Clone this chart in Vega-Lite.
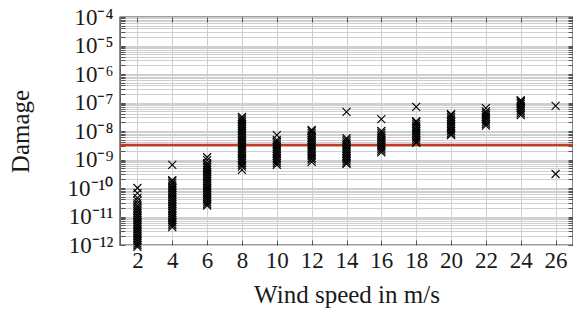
{
  "$schema": "https://vega.github.io/schema/vega-lite/v6.json",
  "width": 453,
  "height": 228,
  "autosize": {"type": "none"},
  "padding": {"left": 120, "top": 17, "right": 0, "bottom": 75},
  "background": "white",
  "view": {"stroke": "#3c3c3c", "strokeWidth": 1.4},
  "config": {
    "font": "Liberation Serif",
    "axis": {
      "labelFont": "Liberation Serif",
      "titleFont": "Liberation Serif",
      "labelFontSize": 23,
      "titleFontSize": 25,
      "titleFontWeight": "normal",
      "labelColor": "#1a1a1a",
      "titleColor": "#1a1a1a",
      "gridColor": "#cfcfcf",
      "gridWidth": 1,
      "tickColor": "#555555",
      "domain": false
    }
  },
  "datasets": {
    "pts": [
      {"ws": 2, "d": 8.66e-13},
      {"ws": 2, "d": 1.0e-12}, {"ws": 2, "d": 1.15e-12}, {"ws": 2, "d": 1.33e-12}, {"ws": 2, "d": 1.54e-12}, {"ws": 2, "d": 1.78e-12}, {"ws": 2, "d": 2.05e-12}, {"ws": 2, "d": 2.37e-12}, {"ws": 2, "d": 2.74e-12},
      {"ws": 2, "d": 3.16e-12}, {"ws": 2, "d": 3.65e-12}, {"ws": 2, "d": 4.22e-12}, {"ws": 2, "d": 4.87e-12}, {"ws": 2, "d": 5.62e-12}, {"ws": 2, "d": 6.49e-12}, {"ws": 2, "d": 7.5e-12}, {"ws": 2, "d": 8.66e-12},
      {"ws": 2, "d": 1.0e-11}, {"ws": 2, "d": 1.15e-11}, {"ws": 2, "d": 1.33e-11}, {"ws": 2, "d": 1.54e-11}, {"ws": 2, "d": 1.78e-11}, {"ws": 2, "d": 2.05e-11}, {"ws": 2, "d": 2.37e-11},
      {"ws": 2, "d": 2.9e-11}, {"ws": 2, "d": 3.6e-11}, {"ws": 2, "d": 4.5e-11}, {"ws": 2, "d": 6.6e-11}, {"ws": 2, "d": 1.0e-10},

      {"ws": 4, "d": 4.22e-12}, {"ws": 4, "d": 4.87e-12}, {"ws": 4, "d": 5.62e-12}, {"ws": 4, "d": 6.49e-12}, {"ws": 4, "d": 7.5e-12}, {"ws": 4, "d": 8.66e-12},
      {"ws": 4, "d": 1.0e-11}, {"ws": 4, "d": 1.15e-11}, {"ws": 4, "d": 1.33e-11}, {"ws": 4, "d": 1.54e-11}, {"ws": 4, "d": 1.78e-11}, {"ws": 4, "d": 2.05e-11}, {"ws": 4, "d": 2.37e-11}, {"ws": 4, "d": 2.74e-11},
      {"ws": 4, "d": 3.16e-11}, {"ws": 4, "d": 3.65e-11}, {"ws": 4, "d": 4.22e-11}, {"ws": 4, "d": 4.87e-11}, {"ws": 4, "d": 5.62e-11}, {"ws": 4, "d": 6.49e-11}, {"ws": 4, "d": 7.5e-11}, {"ws": 4, "d": 8.66e-11},
      {"ws": 4, "d": 1.0e-10}, {"ws": 4, "d": 1.15e-10}, {"ws": 4, "d": 1.33e-10}, {"ws": 4, "d": 1.54e-10}, {"ws": 4, "d": 1.78e-10}, {"ws": 4, "d": 1.9e-10},
      {"ws": 4, "d": 6.5e-10},

      {"ws": 6, "d": 2.4e-11}, {"ws": 6, "d": 2.74e-11}, {"ws": 6, "d": 3.16e-11}, {"ws": 6, "d": 3.65e-11}, {"ws": 6, "d": 4.22e-11}, {"ws": 6, "d": 4.87e-11}, {"ws": 6, "d": 5.62e-11}, {"ws": 6, "d": 6.49e-11}, {"ws": 6, "d": 7.5e-11}, {"ws": 6, "d": 8.66e-11},
      {"ws": 6, "d": 1.0e-10}, {"ws": 6, "d": 1.15e-10}, {"ws": 6, "d": 1.33e-10}, {"ws": 6, "d": 1.54e-10}, {"ws": 6, "d": 1.78e-10}, {"ws": 6, "d": 2.05e-10}, {"ws": 6, "d": 2.37e-10}, {"ws": 6, "d": 2.74e-10},
      {"ws": 6, "d": 3.16e-10}, {"ws": 6, "d": 3.65e-10}, {"ws": 6, "d": 4.22e-10}, {"ws": 6, "d": 4.87e-10}, {"ws": 6, "d": 5.62e-10}, {"ws": 6, "d": 6.49e-10}, {"ws": 6, "d": 7.5e-10},
      {"ws": 6, "d": 9.5e-10}, {"ws": 6, "d": 1.2e-9},

      {"ws": 8, "d": 4.3e-10},
      {"ws": 8, "d": 5.62e-10}, {"ws": 8, "d": 6.49e-10}, {"ws": 8, "d": 7.5e-10}, {"ws": 8, "d": 8.66e-10},
      {"ws": 8, "d": 1.0e-9}, {"ws": 8, "d": 1.15e-9}, {"ws": 8, "d": 1.33e-9}, {"ws": 8, "d": 1.54e-9}, {"ws": 8, "d": 1.78e-9}, {"ws": 8, "d": 2.05e-9}, {"ws": 8, "d": 2.37e-9}, {"ws": 8, "d": 2.74e-9},
      {"ws": 8, "d": 3.16e-9}, {"ws": 8, "d": 3.65e-9}, {"ws": 8, "d": 4.22e-9}, {"ws": 8, "d": 4.87e-9}, {"ws": 8, "d": 5.62e-9}, {"ws": 8, "d": 6.49e-9}, {"ws": 8, "d": 7.5e-9}, {"ws": 8, "d": 8.66e-9},
      {"ws": 8, "d": 1.0e-8}, {"ws": 8, "d": 1.15e-8}, {"ws": 8, "d": 1.33e-8}, {"ws": 8, "d": 1.54e-8}, {"ws": 8, "d": 1.78e-8}, {"ws": 8, "d": 2.05e-8}, {"ws": 8, "d": 2.37e-8}, {"ws": 8, "d": 2.74e-8}, {"ws": 8, "d": 3.1e-8},

      {"ws": 10, "d": 6.49e-10}, {"ws": 10, "d": 7.5e-10}, {"ws": 10, "d": 8.66e-10},
      {"ws": 10, "d": 1.0e-9}, {"ws": 10, "d": 1.15e-9}, {"ws": 10, "d": 1.33e-9}, {"ws": 10, "d": 1.54e-9}, {"ws": 10, "d": 1.78e-9}, {"ws": 10, "d": 2.05e-9}, {"ws": 10, "d": 2.37e-9}, {"ws": 10, "d": 2.74e-9},
      {"ws": 10, "d": 3.16e-9}, {"ws": 10, "d": 3.65e-9}, {"ws": 10, "d": 4.22e-9}, {"ws": 10, "d": 4.87e-9},
      {"ws": 10, "d": 7.2e-9},

      {"ws": 12, "d": 8.3e-10},
      {"ws": 12, "d": 1.0e-9}, {"ws": 12, "d": 1.15e-9}, {"ws": 12, "d": 1.33e-9}, {"ws": 12, "d": 1.54e-9}, {"ws": 12, "d": 1.78e-9}, {"ws": 12, "d": 2.05e-9}, {"ws": 12, "d": 2.37e-9}, {"ws": 12, "d": 2.74e-9},
      {"ws": 12, "d": 3.16e-9}, {"ws": 12, "d": 3.65e-9}, {"ws": 12, "d": 4.22e-9}, {"ws": 12, "d": 4.87e-9}, {"ws": 12, "d": 5.62e-9}, {"ws": 12, "d": 6.49e-9}, {"ws": 12, "d": 7.5e-9}, {"ws": 12, "d": 8.66e-9},
      {"ws": 12, "d": 1.0e-8}, {"ws": 12, "d": 1.1e-8},

      {"ws": 14, "d": 7.0e-10}, {"ws": 14, "d": 7.5e-10}, {"ws": 14, "d": 8.66e-10},
      {"ws": 14, "d": 1.0e-9}, {"ws": 14, "d": 1.15e-9}, {"ws": 14, "d": 1.33e-9}, {"ws": 14, "d": 1.54e-9}, {"ws": 14, "d": 1.78e-9}, {"ws": 14, "d": 2.05e-9}, {"ws": 14, "d": 2.37e-9}, {"ws": 14, "d": 2.74e-9},
      {"ws": 14, "d": 3.16e-9}, {"ws": 14, "d": 3.65e-9}, {"ws": 14, "d": 4.22e-9}, {"ws": 14, "d": 4.87e-9}, {"ws": 14, "d": 5.62e-9},
      {"ws": 14, "d": 4.7e-8},

      {"ws": 16, "d": 1.78e-9}, {"ws": 16, "d": 2.05e-9}, {"ws": 16, "d": 2.37e-9}, {"ws": 16, "d": 2.74e-9}, {"ws": 16, "d": 3.16e-9}, {"ws": 16, "d": 3.65e-9}, {"ws": 16, "d": 4.22e-9}, {"ws": 16, "d": 4.87e-9},
      {"ws": 16, "d": 5.62e-9}, {"ws": 16, "d": 6.49e-9}, {"ws": 16, "d": 7.5e-9}, {"ws": 16, "d": 8.66e-9}, {"ws": 16, "d": 1.0e-8},
      {"ws": 16, "d": 2.6e-8},

      {"ws": 18, "d": 3.8e-9}, {"ws": 18, "d": 4.22e-9}, {"ws": 18, "d": 4.87e-9}, {"ws": 18, "d": 5.62e-9}, {"ws": 18, "d": 6.49e-9}, {"ws": 18, "d": 7.5e-9}, {"ws": 18, "d": 8.66e-9},
      {"ws": 18, "d": 1.0e-8}, {"ws": 18, "d": 1.15e-8}, {"ws": 18, "d": 1.33e-8}, {"ws": 18, "d": 1.54e-8}, {"ws": 18, "d": 1.78e-8}, {"ws": 18, "d": 2.05e-8}, {"ws": 18, "d": 2.2e-8},
      {"ws": 18, "d": 7.0e-8},

      {"ws": 20, "d": 7.2e-9}, {"ws": 20, "d": 7.5e-9}, {"ws": 20, "d": 8.66e-9},
      {"ws": 20, "d": 1.0e-8}, {"ws": 20, "d": 1.15e-8}, {"ws": 20, "d": 1.33e-8}, {"ws": 20, "d": 1.54e-8}, {"ws": 20, "d": 1.78e-8}, {"ws": 20, "d": 2.05e-8}, {"ws": 20, "d": 2.37e-8}, {"ws": 20, "d": 2.74e-8},
      {"ws": 20, "d": 3.16e-8}, {"ws": 20, "d": 3.65e-8}, {"ws": 20, "d": 3.9e-8},

      {"ws": 22, "d": 1.54e-8}, {"ws": 22, "d": 1.78e-8}, {"ws": 22, "d": 2.05e-8}, {"ws": 22, "d": 2.37e-8}, {"ws": 22, "d": 2.74e-8}, {"ws": 22, "d": 3.16e-8}, {"ws": 22, "d": 3.65e-8}, {"ws": 22, "d": 4.22e-8}, {"ws": 22, "d": 4.87e-8},
      {"ws": 22, "d": 6.3e-8},

      {"ws": 24, "d": 3.6e-8}, {"ws": 24, "d": 4.2e-8}, {"ws": 24, "d": 4.9e-8}, {"ws": 24, "d": 5.6e-8}, {"ws": 24, "d": 6.5e-8}, {"ws": 24, "d": 7.5e-8}, {"ws": 24, "d": 8.7e-8}, {"ws": 24, "d": 1.0e-7}, {"ws": 24, "d": 1.12e-7}, {"ws": 24, "d": 1.2e-7},

      {"ws": 26, "d": 7.6e-8}, {"ws": 26, "d": 3.1e-10}
    ],
    "limit": [{"d": 3.2e-9}]
  },
  "layer": [
    {
      "data": {"name": "limit"},
      "mark": {"type": "rule", "color": "#c23b22", "strokeWidth": 2.5},
      "encoding": {
        "y": {"field": "d", "type": "quantitative", "axis": null,
              "scale": {"type": "log", "domain": [1e-12, 1e-4], "nice": false}}
      }
    },
    {
      "data": {"name": "pts"},
      "mark": {"type": "point", "shape": "M-1,-1L1,1M-1,1L1,-1", "filled": false, "stroke": "black", "strokeWidth": 1.1, "size": 64, "opacity": 1, "clip": false},
      "encoding": {
        "x": {"field": "ws", "type": "quantitative",
              "scale": {"domain": [1, 27], "nice": false, "zero": false},
              "axis": {"title": "Wind speed in m/s", "labelFont": "Liberation Serif", "titleFont": "Liberation Serif", "values": [2,4,6,8,10,12,14,16,18,20,22,24,26], "grid": true, "tickSize": -5, "labelPadding": 9, "titlePadding": 10, "labelFlush": false}},
        "y": {"field": "d", "type": "quantitative",
              "scale": {"type": "log", "domain": [1e-12, 1e-4], "nice": false},
              "axis": {"title": "Damage", "labelFont": "Liberation Serif", "titleFont": "Liberation Serif", "grid": true, "tickSize": -5, "labelPadding": 12, "titlePadding": 34, "labelFlush": false, "labelOverlap": false,
                       "values": [1e-12,2e-12,3e-12,4e-12,5e-12,6e-12,7e-12,8e-12,9e-12,
                                  1e-11,2e-11,3e-11,4e-11,5e-11,6e-11,7e-11,8e-11,9e-11,
                                  1e-10,2e-10,3e-10,4e-10,5e-10,6e-10,7e-10,8e-10,9e-10,
                                  1e-9,2e-9,3e-9,4e-9,5e-9,6e-9,7e-9,8e-9,9e-9,
                                  1e-8,2e-8,3e-8,4e-8,5e-8,6e-8,7e-8,8e-8,9e-8,
                                  1e-7,2e-7,3e-7,4e-7,5e-7,6e-7,7e-7,8e-7,9e-7,
                                  1e-6,2e-6,3e-6,4e-6,5e-6,6e-6,7e-6,8e-6,9e-6,
                                  1e-5,2e-5,3e-5,4e-5,5e-5,6e-5,7e-5,8e-5,9e-5,1e-4],
                       "labelExpr": "abs(log(datum.value)/LN10 - round(log(datum.value)/LN10)) < 0.001 ? ['10⁻¹²','10⁻¹¹','10⁻¹⁰','10⁻⁹','10⁻⁸','10⁻⁷','10⁻⁶','10⁻⁵','10⁻⁴'][round(log(datum.value)/LN10)+12] : ''"}}
      }
    },
    {
      "data": {"name": "pts"},
      "mark": {"type": "point", "opacity": 0},
      "encoding": {
        "x": {"field": "ws", "type": "quantitative",
              "axis": {"orient": "top", "title": null, "labels": false, "grid": false, "tickSize": -5, "values": [2,4,6,8,10,12,14,16,18,20,22,24,26]}},
        "y": {"field": "d", "type": "quantitative",
              "axis": {"orient": "right", "title": null, "labels": false, "grid": false, "tickSize": -5,
                       "values": [1e-12,2e-12,3e-12,4e-12,5e-12,6e-12,7e-12,8e-12,9e-12,
                                  1e-11,2e-11,3e-11,4e-11,5e-11,6e-11,7e-11,8e-11,9e-11,
                                  1e-10,2e-10,3e-10,4e-10,5e-10,6e-10,7e-10,8e-10,9e-10,
                                  1e-9,2e-9,3e-9,4e-9,5e-9,6e-9,7e-9,8e-9,9e-9,
                                  1e-8,2e-8,3e-8,4e-8,5e-8,6e-8,7e-8,8e-8,9e-8,
                                  1e-7,2e-7,3e-7,4e-7,5e-7,6e-7,7e-7,8e-7,9e-7,
                                  1e-6,2e-6,3e-6,4e-6,5e-6,6e-6,7e-6,8e-6,9e-6,
                                  1e-5,2e-5,3e-5,4e-5,5e-5,6e-5,7e-5,8e-5,9e-5,1e-4]}}
      }
    }
  ],
  "resolve": {"axis": {"x": "independent", "y": "independent"}}
}
